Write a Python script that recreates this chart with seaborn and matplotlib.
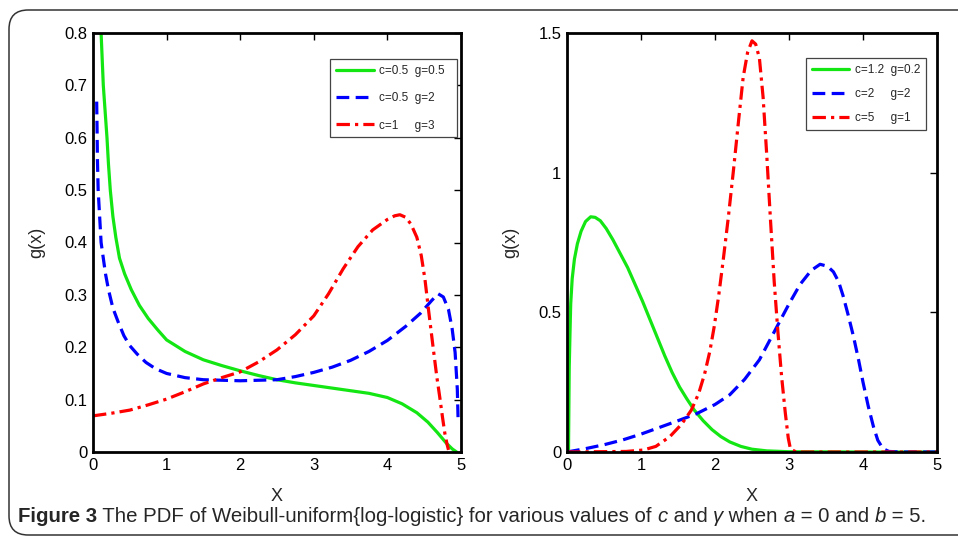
import numpy as np
import pandas as pd
import matplotlib
matplotlib.use("Agg")
import matplotlib.pyplot as plt
import seaborn as sns
from matplotlib.patches import FancyBboxPatch
from matplotlib.ticker import FuncFormatter

# left panel: c=0.5 g=0.5 / c=0.5 g=2 / c=1 g=3
left_green_x = [0.11, 0.125, 0.14, 0.165, 0.19, 0.21, 0.235, 0.27, 0.31, 0.36, 0.43, 0.52, 0.63, 0.75,
                0.88, 1.0, 1.25, 1.5, 1.75, 2.0, 2.25, 2.5, 2.75, 3.0, 3.25, 3.5, 3.75, 4.0, 4.2, 4.4,
                4.55, 4.68, 4.8, 4.88, 4.94]
left_green_y = [0.80, 0.75, 0.70, 0.65, 0.60, 0.55, 0.50, 0.45, 0.41, 0.37, 0.34, 0.31, 0.28, 0.255,
                0.233, 0.214, 0.192, 0.176, 0.165, 0.155, 0.146, 0.138, 0.132, 0.127, 0.122, 0.117,
                0.112, 0.104, 0.092, 0.075, 0.057, 0.037, 0.017, 0.006, 0.0]
left_blue_x = [0.05, 0.055, 0.06, 0.07, 0.09, 0.11, 0.14, 0.17, 0.21, 0.27, 0.34, 0.42, 0.5, 0.6, 0.72,
               0.85, 1.0, 1.25, 1.5, 2.0, 2.5, 2.75, 3.0, 3.25, 3.5, 3.75, 4.0, 4.25, 4.45, 4.6, 4.69,
               4.76, 4.83, 4.88, 4.92, 4.95, 4.96]
left_blue_y = [0.669, 0.62, 0.56, 0.50, 0.45, 0.40, 0.37, 0.34, 0.31, 0.275, 0.249, 0.222, 0.203, 0.187,
               0.171, 0.159, 0.150, 0.142, 0.138, 0.136, 0.138, 0.144, 0.152, 0.162, 0.175, 0.192,
               0.213, 0.24, 0.265, 0.289, 0.302, 0.296, 0.272, 0.235, 0.19, 0.12, 0.065]
left_red_x = [0.0, 0.25, 0.5, 0.75, 1.0, 1.25, 1.5, 1.75, 2.0, 2.25, 2.5, 2.75, 3.0, 3.2, 3.4, 3.6, 3.8,
              4.0, 4.1, 4.17, 4.25, 4.32, 4.4, 4.46, 4.51, 4.56, 4.62, 4.67, 4.71, 4.75, 4.78, 4.81, 4.83]
left_red_y = [0.069, 0.074, 0.08, 0.09, 0.101, 0.115, 0.130, 0.142, 0.153, 0.172, 0.195, 0.224, 0.26,
              0.302, 0.350, 0.392, 0.424, 0.444, 0.451, 0.453, 0.448, 0.435, 0.41, 0.375, 0.33, 0.27,
              0.201, 0.145, 0.106, 0.065, 0.036, 0.015, 0.004]

# right panel: c=1.2 g=0.2 / c=2 g=2 / c=5 g=1
right_green_x = [0.02, 0.025, 0.03, 0.04, 0.05, 0.07, 0.1, 0.14, 0.19, 0.25, 0.32, 0.38, 0.45, 0.53,
                 0.62, 0.72, 0.82, 0.92, 1.02, 1.12, 1.22, 1.32, 1.42, 1.52, 1.62, 1.72, 1.84, 1.96,
                 2.08, 2.2, 2.35, 2.5, 2.7, 3.0, 4.0, 5.0]
right_green_y = [0.0, 0.15, 0.3, 0.42, 0.53, 0.62, 0.69, 0.745, 0.79, 0.825, 0.842, 0.84, 0.828, 0.8,
                 0.76, 0.71, 0.66, 0.6, 0.54, 0.475, 0.41, 0.345, 0.285, 0.233, 0.19, 0.15, 0.112,
                 0.08, 0.055, 0.036, 0.02, 0.01, 0.004, 0.001, 0.0, 0.0]
right_blue_x = [0.0, 0.25, 0.5, 0.75, 1.0, 1.25, 1.5, 1.75, 2.0, 2.2, 2.4, 2.6, 2.7, 2.8, 3.0, 3.15, 3.3,
                3.42, 3.52, 3.6, 3.67, 3.73, 3.8, 3.87, 3.94, 4.0, 4.07, 4.14, 4.2, 4.27, 4.35, 4.5, 5.0]
right_blue_y = [0.0, 0.012, 0.026, 0.043, 0.064, 0.088, 0.112, 0.137, 0.17, 0.205, 0.26, 0.33, 0.38,
                0.43, 0.53, 0.6, 0.65, 0.672, 0.665, 0.645, 0.61, 0.56, 0.49, 0.415, 0.33, 0.25, 0.165,
                0.092, 0.042, 0.012, 0.002, 0.0, 0.0]
right_red_x = [0.0, 0.8, 1.03, 1.2, 1.39, 1.55, 1.68, 1.78, 1.86, 1.93, 1.99, 2.05, 2.11, 2.18, 2.25,
               2.32, 2.38, 2.44, 2.5, 2.55, 2.6, 2.65, 2.7, 2.75, 2.8, 2.85, 2.9, 2.95, 2.99, 3.02,
               3.1, 5.0]
right_red_y = [0.0, 0.002, 0.007, 0.02, 0.055, 0.1, 0.15, 0.21, 0.28, 0.36, 0.45, 0.56, 0.685, 0.84,
               1.01, 1.19, 1.34, 1.43, 1.472, 1.46, 1.41, 1.27, 1.06, 0.83, 0.61, 0.43, 0.27, 0.14,
               0.05, 0.01, 0.0, 0.0]

left_labels = ["c=0.5  g=0.5  ", "c=0.5  g=2", "c=1     g=3"]
right_labels = ["c=1.2  g=0.2", "c=2     g=2", "c=5     g=1"]

sns.set_style("white")
plt.rcParams["font.family"] = ["Liberation Sans", "DejaVu Sans"]

green = "#14e614"
blue = "#0000ff"
red = "#ff0000"
dash = (0, (4, 2))
dashdot = (0, (4.2, 1.6, 1.0, 1.6))

fig = plt.figure(figsize=(9.58, 5.4), dpi=100)
ax1 = fig.add_axes([93 / 958, 1 - 452 / 540, 368 / 958, 419 / 540])
ax2 = fig.add_axes([567 / 958, 1 - 452 / 540, 370 / 958, 419 / 540])

series = [
    (ax1, left_green_x, left_green_y, green, "-", left_labels[0]),
    (ax1, left_blue_x, left_blue_y, blue, dash, left_labels[1]),
    (ax1, left_red_x, left_red_y, red, dashdot, left_labels[2]),
    (ax2, right_green_x, right_green_y, green, "-", right_labels[0]),
    (ax2, right_blue_x, right_blue_y, blue, dash, right_labels[1]),
    (ax2, right_red_x, right_red_y, red, dashdot, right_labels[2]),
]
for ax, xs, ys, col, ls, lab in series:
    df = pd.DataFrame({"x": xs, "y": ys})
    sns.lineplot(data=df, x="x", y="y", ax=ax, color=col, linestyle=ls,
                 linewidth=2.3, label=lab, estimator=None, sort=False)

fmt = FuncFormatter(lambda v, p: "%g" % v)
for ax, ymax, yticks, anchor, spacing in [(ax1, 0.8, np.arange(0, 0.81, 0.1), (0.989, 0.938), 1.3),
                                          (ax2, 1.5, [0, 0.5, 1, 1.5], (0.970, 0.940), 1.0)]:
    ax.set_xlim(0, 5)
    ax.set_ylim(0, ymax)
    ax.set_xticks(range(6))
    ax.set_yticks(yticks)
    ax.yaxis.set_major_formatter(fmt)
    ax.tick_params(direction="in", length=5, width=1, labelsize=12, top=True, right=True,
                   pad=4, colors="black")
    for s in ax.spines.values():
        s.set_color("black")
        s.set_linewidth(2)
    ax.set_xlabel("X", fontsize=13, labelpad=11)
    ax.set_ylabel("g(x)", fontsize=13, labelpad=14)
    leg = ax.legend(loc="upper right", bbox_to_anchor=anchor, fontsize=8.5,
                    handlelength=3.2, handletextpad=0.45, labelspacing=spacing, borderpad=0.5,
                    borderaxespad=0, fancybox=False, framealpha=1, edgecolor="#444444")
    leg.get_frame().set_linewidth(0.9)

# outer rounded frame
fig.patches.append(FancyBboxPatch((9 / 958, 5 / 540), 1.1, 525 / 540,
                                  boxstyle="round,pad=0,rounding_size=0.02",
                                  transform=fig.transFigure, fill=False,
                                  edgecolor="#333333", linewidth=1.1, mutation_aspect=958 / 540))

# caption drawn piece by piece
cap_font = ["Liberation Sans Narrow", "Liberation Sans", "DejaVu Sans"]
pieces = [("Figure 3", "bold", "normal"),
          (" The PDF of Weibull-uniform{log-logistic} for various values of ", "normal", "normal"),
          ("c", "normal", "italic"), (" and ", "normal", "normal"),
          ("\u03b3", "normal", "italic"), (" when ", "normal", "normal"),
          ("a", "normal", "italic"), (" = 0 and ", "normal", "normal"),
          ("b", "normal", "italic"), (" = 5.", "normal", "normal")]
renderer = fig.canvas.get_renderer()


def draw_caption(size):
    x = 18
    made = []
    for txt, w, st in pieces:
        t = fig.text(x / 958, 1 - 522 / 540, txt, fontsize=size, fontweight=w, fontstyle=st,
                     family=cap_font, va="baseline", ha="left")
        x = t.get_window_extent(renderer).x1
        made.append(t)
    return x, made


end, made = draw_caption(14)
size = 14 * (930 - 18) / (end - 18)
for t in made:
    t.remove()
draw_caption(size)

fig.savefig("out.png", dpi=100)
